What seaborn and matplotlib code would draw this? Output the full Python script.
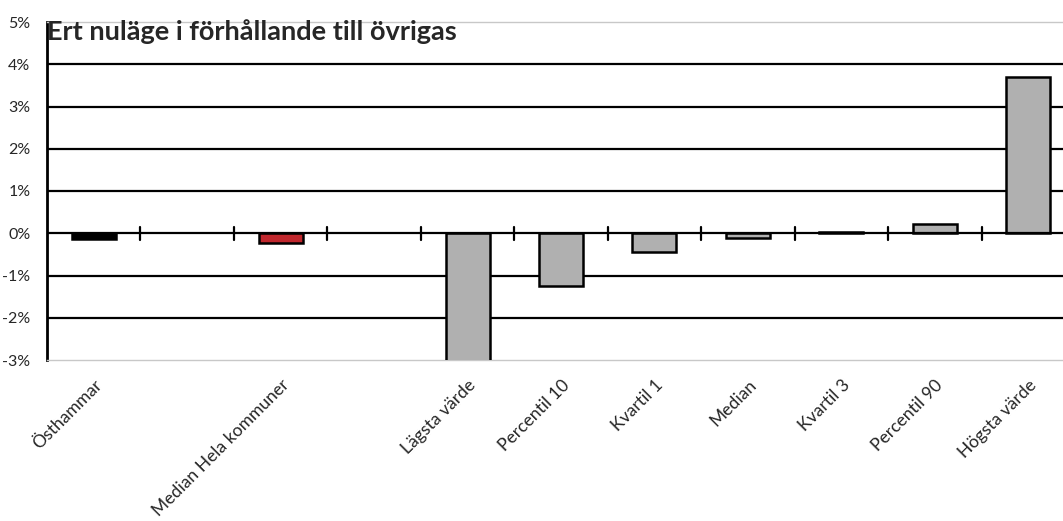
import pandas as pd
import seaborn as sns
import matplotlib.pyplot as plt
from matplotlib.ticker import FuncFormatter, MultipleLocator

# categories (two empty slots kept as spacers)
categories = ["Östhammar", " ", "Median Hela kommuner", "  ", "Lägsta värde",
              "Percentil 10", "Kvartil 1", "Median", "Kvartil 3",
              "Percentil 90", "Högsta värde"]
values = [-0.13, None, -0.23, None, -3.6, -1.24, -0.44, -0.11, 0.04, 0.21, 3.70]
bar_colors = ["#000000", "#ffffff", "#C0272D", "#ffffff", "#B0B0B0", "#B0B0B0",
              "#B0B0B0", "#B0B0B0", "#B0B0B0", "#B0B0B0", "#B0B0B0"]

df = pd.DataFrame({"kategori": categories, "varde": values})

sns.set_style("white")
plt.rcParams["font.family"] = ["Lato", "DejaVu Sans"]

fig = plt.figure(figsize=(10.63, 5.21), dpi=100)
ax = fig.add_axes([47 / 1063, 1 - 360 / 521, 1028 / 1063, 338 / 521])

sns.barplot(data=df, x="kategori", y="varde", hue="kategori", order=categories,
            palette=dict(zip(categories, bar_colors)), legend=False, saturation=1,
            width=0.47, edgecolor="black", linewidth=1.8, ax=ax, zorder=3)

ax.set_ylim(-3, 5)
ax.set_xlim(-0.5, len(categories) - 0.5)
ax.yaxis.set_major_locator(MultipleLocator(1))
ax.yaxis.set_major_formatter(FuncFormatter(lambda v, p: f"{int(round(v))}%"))

# gridlines: inner ones black, edges light grey
for v in range(-2, 5):
    if v == 0:
        continue
    ax.axhline(v, color="black", lw=1.6, zorder=1)
ax.axhline(0, color="black", lw=1.6, zorder=4)

for side in ["top", "bottom", "right"]:
    ax.spines[side].set_color("#c8c8c8")
    ax.spines[side].set_linewidth(1)
ax.spines["left"].set_color("black")
ax.spines["left"].set_linewidth(2)

ax.tick_params(axis="y", direction="out", length=5, width=1.6, color="black",
               labelsize=11.5, pad=7)
ax.tick_params(axis="x", length=0, labelsize=12.6, pad=12)
ax.set_xticks(range(len(categories)))
ax.set_xticklabels(categories, rotation=45, ha="right", rotation_mode="anchor")

# cross tick marks at category boundaries along the zero line
for b in range(1, len(categories)):
    ax.plot([b - 0.5, b - 0.5], [-0.15, 0.15], color="black", lw=1.6, zorder=4)

ax.set_xlabel("")
ax.set_ylabel("")
fig.text(47 / 1063, 1 - 32 / 521, "Ert nuläge i förhållande till övrigas",
         fontsize=19.5, fontweight="bold", ha="left", va="center")

fig.savefig("out.png", dpi=100)
